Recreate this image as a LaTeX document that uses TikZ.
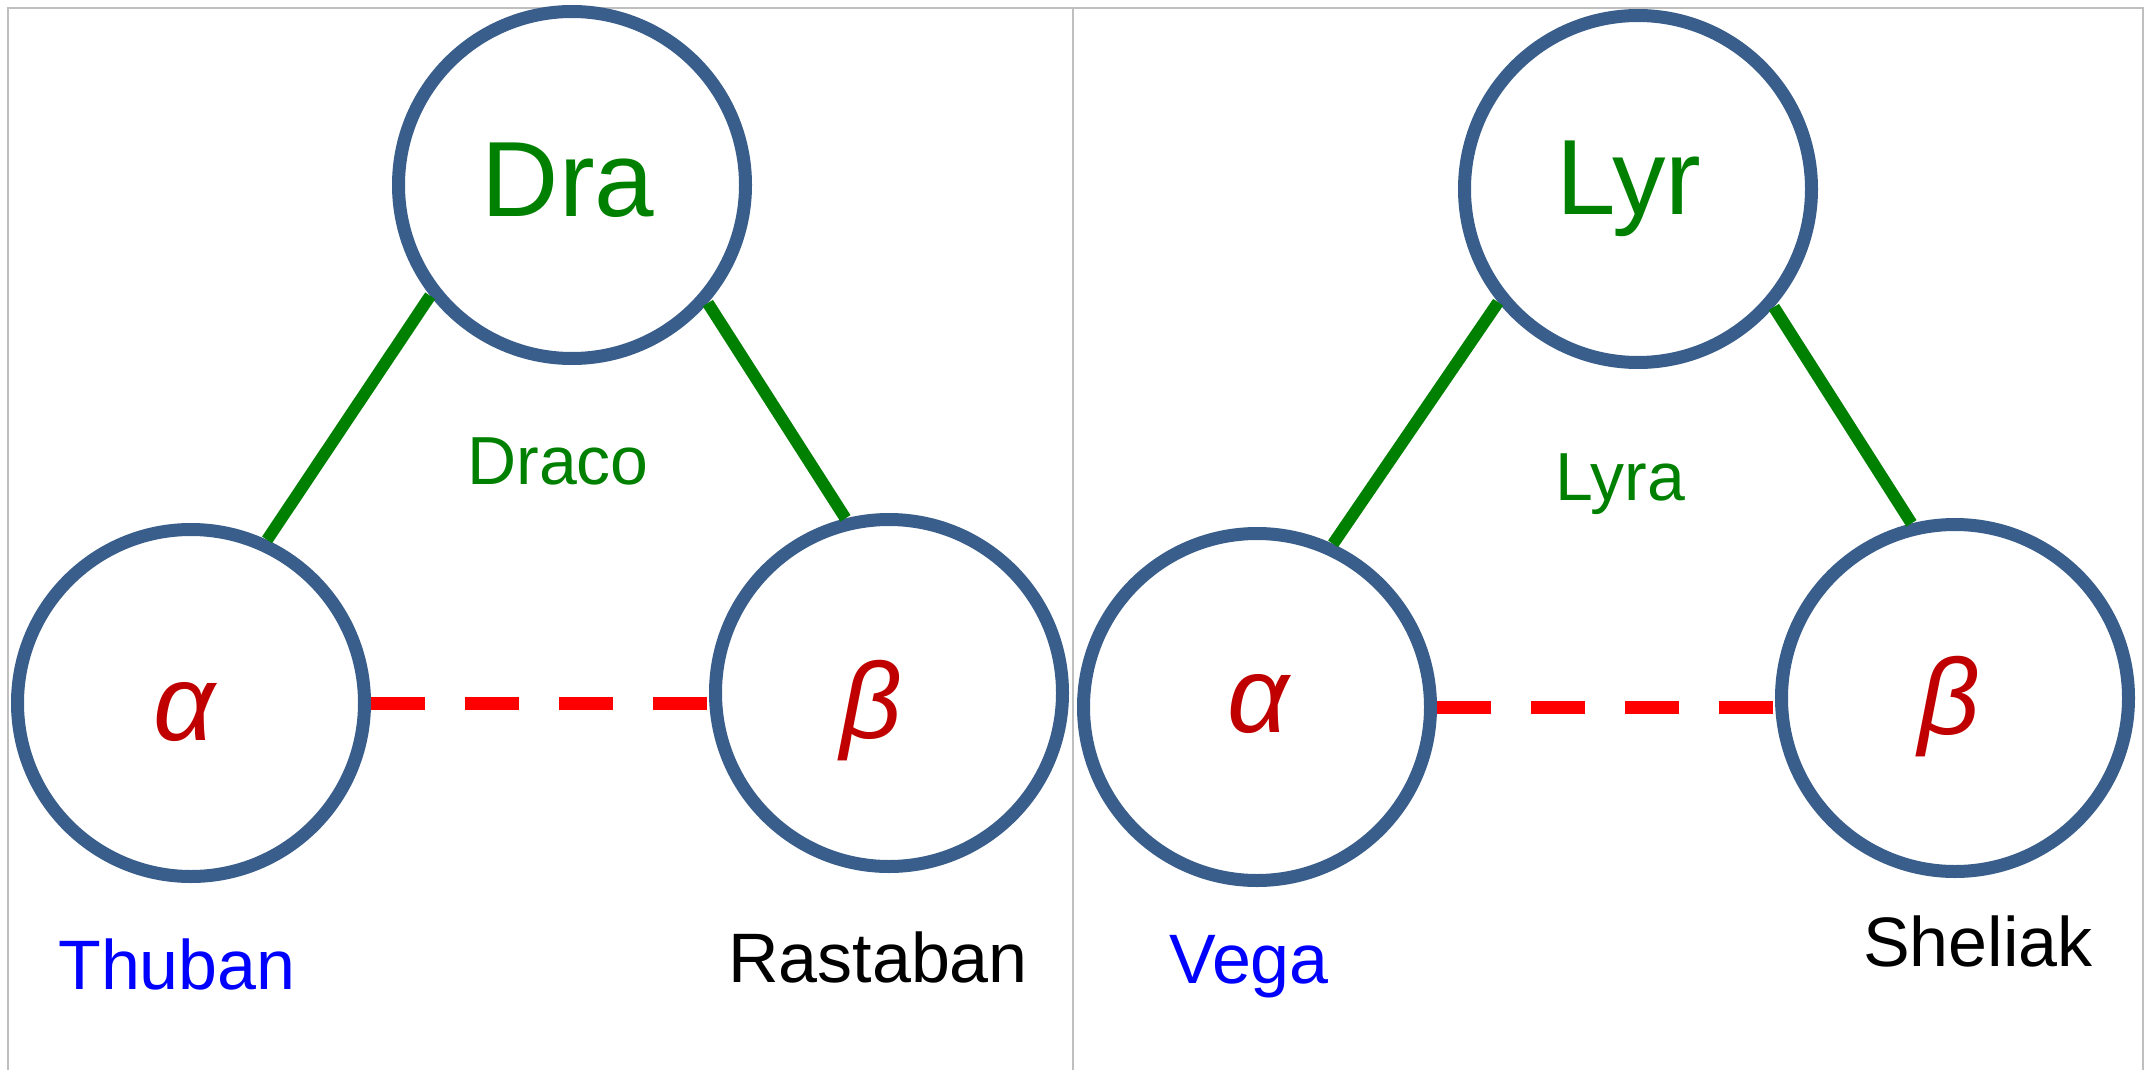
\documentclass[tikz,border=0pt]{standalone}
\usepackage{fontspec}
\setmainfont{Liberation Sans}
\definecolor{ring}{HTML}{3A5E8B}
\definecolor{lineGreen}{HTML}{008000}
\definecolor{greekRed}{HTML}{C00000}
\definecolor{gridGray}{HTML}{BFBFBF}
\begin{document}
\begin{tikzpicture}[x=1pt,y=-1pt,
  star/.style={circle, draw=ring, line width=13pt, minimum size=347pt, inner sep=0pt, outer sep=6.5pt},
  bigname/.style={anchor=base, text=lineGreen, font=\fontsize{107}{110}\selectfont, inner sep=0pt},
  midname/.style={anchor=base, text=lineGreen, font=\fontsize{68}{72}\selectfont, inner sep=0pt},
  greek/.style={anchor=base, text=greekRed, font=\fontsize{108}{110}\selectfont\itshape, inner sep=0pt},
  propname/.style={anchor=base, font=\fontsize{70}{72}\selectfont, inner sep=0pt},
  edge/.style={draw=lineGreen, line width=12pt},
  dashlink/.style={draw=red, line width=13pt, dash pattern=on 54pt off 40pt},
  frame/.style={draw=gridGray, line width=2pt}
]
\useasboundingbox (0,0) rectangle (2147,1070);
% frame
\coordinate (tl) at (8,8);
\coordinate (tr) at (2143,8);
\coordinate (bl) at (8,1070);
\coordinate (br) at (2143,1070);
\coordinate (tm) at (1073,8);
\coordinate (bm) at (1073,1070);
\draw[frame] (bl) -- (tl) -- (tr) -- (br);
\draw[frame] (tm) -- (bm);

% left panel
\node[star] (dra) at (572,185) {};
\node[star] (a1) at (191,703) {};
\node[star] (b1) at (889,693) {};
\node[bigname] (dratxt) at (568,216) {Dra};
\node[midname] (draco) at (558,484) {Draco};
\node[greek] (a1txt) at (184,740) {α};
\node[greek] (b1txt) at (871,738) {β};
\node[propname, text=blue] (thuban) at (177,989) {Thuban};
\node[propname, text=black] (rastaban) at (878,982) {Rastaban};
\draw[edge] (dra.218) -- (a1.65);
\draw[edge] (dra.319) -- (b1.104.5);
\draw[dashlink] (a1.east) -- (a1.east -| b1.west);

% right panel
\node[star] (lyr) at (1638,189) {};
\node[star] (a2) at (1257,707) {};
\node[star] (b2) at (1955,698) {};
\node[bigname] (lyrtxt) at (1629,214) {Lyr};
\node[midname] (lyra) at (1620,500) {Lyra};
\node[greek] (a2txt) at (1258,732) {α};
\node[greek] (b2txt) at (1949,734) {β};
\node[propname, text=blue] (vega) at (1249,983) {Vega};
\node[propname, text=black] (sheliak) at (1978,966) {Sheliak};
\draw[edge] (lyr.219) -- (a2.65);
\draw[edge] (lyr.319) -- (b2.104);
\draw[dashlink] (a2.east) -- (a2.east -| b2.west);
\end{tikzpicture}
\end{document}
